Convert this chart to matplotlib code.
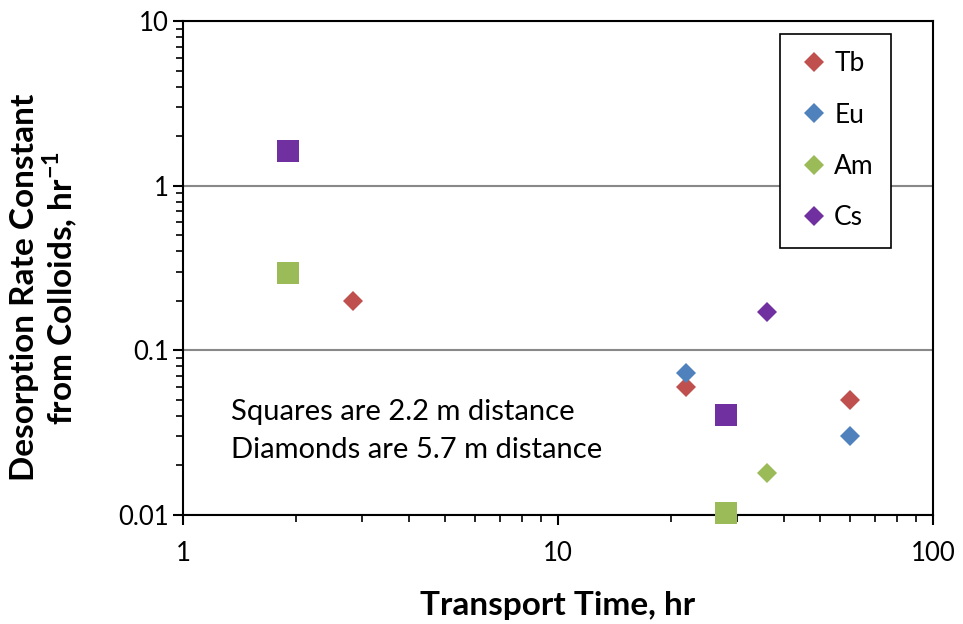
import numpy as np
import matplotlib.pyplot as plt
from matplotlib.ticker import FuncFormatter, LogLocator

plt.rcParams['font.family'] = ['Lato', 'DejaVu Sans']
plt.rcParams['mathtext.fontset'] = 'custom'
plt.rcParams['mathtext.rm'] = 'Lato'
plt.rcParams['mathtext.bf'] = 'Lato:bold'

# diamonds: 5.7 m distance
elements = ['Tb', 'Eu', 'Am', 'Cs']
colors = ['#C0504D', '#4F81BD', '#9BBB59', '#7030A0']
diamond_time = {'Tb': [2.84, 22.0, 60.0], 'Eu': [22.0, 60.0], 'Am': [36.0], 'Cs': [36.0]}
diamond_rate = {'Tb': [0.20, 0.060, 0.050], 'Eu': [0.073, 0.030], 'Am': [0.018], 'Cs': [0.17]}

# squares: 2.2 m distance
square_time = {'Am': [1.9, 28.0], 'Cs': [1.9, 28.0]}
square_rate = {'Am': [0.294, 0.0102], 'Cs': [1.62, 0.0405]}

fig = plt.figure(figsize=(9.63, 6.24), dpi=100)
ax = fig.add_axes([0.19, 0.175, 0.779, 0.791])

for el, c in zip(elements, colors):
    if el in square_time:
        ax.plot(square_time[el], square_rate[el], 's', color=c, ms=15.5, mew=0,
                clip_on=False, zorder=3)
    ax.plot(diamond_time[el], diamond_rate[el], 'D', color=c, ms=10.5, mew=0,
            clip_on=False, zorder=3, label=el)

ax.set_xscale('log')
ax.set_yscale('log')
ax.set_xlim(1, 100)
ax.set_ylim(0.01, 10)

fmt = FuncFormatter(lambda v, p: '%g' % v)
ax.xaxis.set_major_formatter(fmt)
ax.yaxis.set_major_formatter(fmt)
ax.xaxis.set_minor_locator(LogLocator(subs=np.arange(2, 10)))
ax.yaxis.set_minor_locator(LogLocator(subs=np.arange(2, 10)))
ax.xaxis.set_minor_formatter(FuncFormatter(lambda v, p: ''))
ax.yaxis.set_minor_formatter(FuncFormatter(lambda v, p: ''))

ax.tick_params(which='major', length=7, width=1.5, labelsize=18.5)
ax.tick_params(which='minor', length=5, width=1.2)
ax.tick_params(axis='x', which='major', pad=12)
ax.tick_params(axis='y', which='major', pad=3)
for s in ax.spines.values():
    s.set_linewidth(1.5)

ax.yaxis.grid(True, which='major', color='#888888', lw=1.5)
ax.set_axisbelow(True)

ax.set_xlabel('Transport Time, hr', fontsize=24, fontweight='bold', labelpad=18)
ax.set_ylabel('Desorption Rate Constant\nfrom Colloids, hr$^{\\mathbf{-1}}$',
              fontsize=24, fontweight='bold', linespacing=1.05)
ax.yaxis.set_label_coords(-0.138, 0.46)

ax.text(0.064, 0.17, 'Squares are 2.2 m distance\nDiamonds are 5.7 m distance',
        transform=ax.transAxes, fontsize=21, va='center', ha='left', linespacing=1.55)

leg = ax.legend(loc='upper left', bbox_to_anchor=(0.796, 0.974), borderaxespad=0,
                fontsize=19, labelspacing=1.0, handlelength=1.3, handletextpad=0.1,
                borderpad=0.65, fancybox=False, framealpha=1, edgecolor='black')
leg.get_frame().set_linewidth(1.2)

fig.savefig('out.png', dpi=100)
